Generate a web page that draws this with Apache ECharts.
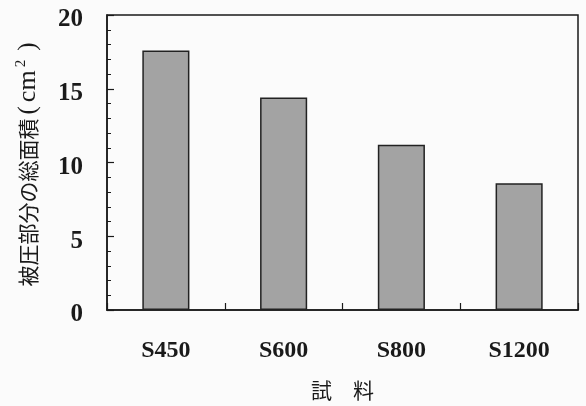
<!DOCTYPE html>
<html>
<head>
<meta charset="utf-8">
<script src="https://cdn.jsdelivr.net/npm/echarts@6/dist/echarts.min.js"></script>
<style>
  html, body { margin: 0; padding: 0; background: #fbfbfb; }
  #chart { width: 586px; height: 406px; }
</style>
</head>
<body>
<div id="chart"></div>
<script>
// Samples and their total pressed area (cm^2)
const categories = ['S450', 'S600', 'S800', 'S1200'];
const areaValues = [17.6, 14.4, 11.2, 8.6];
const yTicks = [0, 5, 10, 15, 20];

const serif = '"Liberation Serif", "DejaVu Serif", serif';
const cjk = '"Noto Sans CJK JP", sans-serif';
const ink = '#1a1a1a';

const chart = echarts.init(document.getElementById('chart'), null, { renderer: 'canvas' });

chart.setOption({
  backgroundColor: '#fbfbfb',
  animation: false,
  grid: {
    left: 107, right: 8, top: 15, bottom: 96,
    show: true, borderColor: ink, borderWidth: 1.5,
    backgroundColor: 'transparent'
  },
  xAxis: {
    type: 'category',
    data: categories,
    boundaryGap: true,
    axisLine: { show: true, lineStyle: { color: ink, width: 1.5 } },
    axisTick: { show: true, inside: true, length: 7, interval: 0, lineStyle: { color: ink, width: 1.2 } },
    axisLabel: {
      margin: 29, fontFamily: serif, fontSize: 24, fontWeight: 'bold', color: ink
    },
    name: '試\u3000料',
    nameLocation: 'middle',
    nameGap: 70,
    nameTextStyle: { fontFamily: cjk, fontSize: 21, color: ink, verticalAlign: 'top' }
  },
  yAxis: {
    type: 'value',
    min: yTicks[0],
    max: yTicks[yTicks.length - 1],
    interval: 5,
    axisLine: { show: true, lineStyle: { color: ink, width: 1.5 } },
    axisTick: { show: true, inside: true, length: 7, lineStyle: { color: ink, width: 1.2 } },
    minorTick: { show: true, splitNumber: 5, length: 4, lineStyle: { color: ink, width: 1 } },
    splitLine: { show: false },
    axisLabel: {
      margin: 24, color: ink,
      formatter: v => '{n|' + v + '}',
      rich: {
        n: { fontFamily: serif, fontSize: 25, fontWeight: 'bold', color: ink, padding: [10, 0, 0, 0] }
      }
    },
    name: '{j|被圧部分の総面積}{p|(}{u|cm}{sup|2}{p|)}',
    nameLocation: 'middle',
    nameRotate: 90,
    nameGap: 64,
    nameTextStyle: {
      color: ink,
      rich: {
        j: { fontFamily: cjk, fontSize: 21, color: ink },
        p: { fontFamily: serif, fontSize: 25, color: ink, padding: [0, 4, 0, 4] },
        u: { fontFamily: serif, fontSize: 26, color: ink },
        sup: { fontFamily: serif, fontSize: 15, verticalAlign: 'bottom', padding: [0, 5, 14, 3], color: ink }
      }
    }
  },
  series: [{
    type: 'bar',
    data: areaValues,
    barWidth: '40%',
    itemStyle: { color: '#a3a3a3', borderColor: '#222', borderWidth: 1.5 }
  }]
});
</script>
</body>
</html>
